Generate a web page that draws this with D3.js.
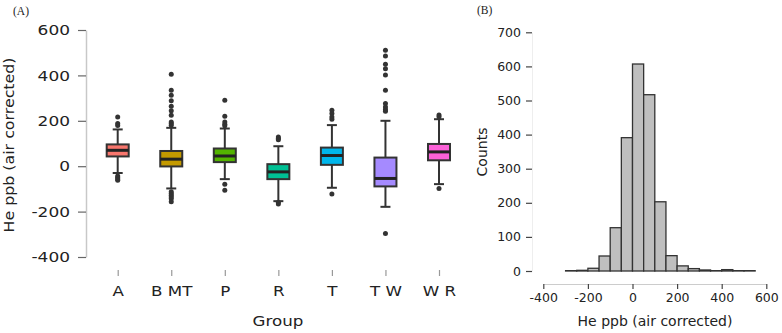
<!DOCTYPE html>
<html>
<head>
<meta charset="utf-8">
<script src="https://cdn.jsdelivr.net/npm/d3@7"></script>
<style>
    body { margin: 0; padding: 0; background: white; }
    text { fill: #222; }
</style>
</head>
<body>
<div id="main"></div>
<script>
// panel A: boxplot summaries
const groups = ['A', 'B MT', 'P', 'R', 'T', 'T W', 'W R'];
const groupColors = ['#f8766d', '#c49a00', '#53b400', '#00c094', '#00b6eb', '#a58aff', '#fb61d7'];
const q1 = [43, -1, 18, -57, 6, -89, 26];
const medians = [70, 31, 45, -25, 47, -54, 63];
const q3 = [96, 67, 78, 9, 82, 38, 98];
const whiskerLow = [-30, -98, -57, -154, -95, -179, -79];
const whiskerHigh = [162, 169, 166, 88, 181, 200, 207];
const outliers = [
    [217, 188, 179, -43, -50, -56, -62],
    [405, 335, 313, 288, 264, 244, 225, 195, 188, 180, -113, -120, -128, -136, -143, -157],
    [291, 220, 195, 185, 178, -79, -106],
    [129, 122, 116, -159, -167],
    [247, 232, 217, 207, -122],
    [511, 485, 449, 429, 402, 335, 276, 261, 250, 242, -297],
    [226, 218, -98]
];
const boxTicks = [-400, -200, 0, 200, 400, 600];

// panel B: histogram, bins of 50
const binLow = [-300, -250, -200, -150, -100, -50, 0, 50, 100, 150, 200, 250, 300, 350, 400, 450, 500];
const counts = [1, 2, 8, 44, 127, 391, 607, 517, 203, 45, 15, 7, 3, 1, 4, 1, 1];
const BINWIDTH = 50;
const histXTicks = [-400, -200, 0, 200, 400, 600];
const histYTicks = [0, 100, 200, 300, 400, 500, 600, 700];

const WIDTH = 782;
const HEIGHT = 333;
const SANS = "'DejaVu Sans', sans-serif";
const SERIF = "'Liberation Serif', 'DejaVu Serif', serif";

const svg = d3.select('#main').append('svg')
    .attr('width', WIDTH)
    .attr('height', HEIGHT)
    .attr('style', 'display: block');

// widen glyphs a bit, the reference font is broader than DejaVu
const stretch = (sel, k) => sel
    .attr('textLength', function () { return this.getComputedTextLength() * k; })
    .attr('lengthAdjust', 'spacingAndGlyphs');
const plain = (d) => String(d);

// ---------- panel A ----------
const scaleX = d3.scalePoint().domain(groups).range([117.7, 439]);
const scaleY = d3.scaleLinear().domain([-400, 600]).range([257, 30]);
const BOXW = 22;
const CAPW = 10;

const axisYA = svg.append('g')
    .attr('transform', 'translate(86, 0)')
    .call(d3.axisLeft(scaleY).tickValues(boxTicks).tickFormat(plain).tickSize(8).tickSizeOuter(0).tickPadding(8));
axisYA.select('.domain').attr('stroke', '#c8c8c8').attr('stroke-width', 1.5);
axisYA.selectAll('.tick line').attr('stroke', '#666').attr('stroke-width', 1.2);
axisYA.selectAll('.tick text').style('font-family', SANS).attr('font-size', 14.5).call(stretch, 1.17);

const axisXA = svg.append('g')
    .attr('transform', 'translate(0, 270)')
    .call(d3.axisBottom(scaleX).tickSize(6).tickSizeOuter(0).tickPadding(10));
axisXA.select('.domain').remove();
axisXA.selectAll('.tick line').attr('stroke', '#999').attr('stroke-width', 1.2);
axisXA.selectAll('.tick text').style('font-family', SANS).attr('font-size', 14.5).call(stretch, 1.15);

const boxes = svg.append('g').selectAll('g').data(groups).enter().append('g')
    .attr('transform', (d) => `translate(${scaleX(d)}, 0)`);
boxes.append('line')
    .attr('y1', (d, i) => scaleY(whiskerHigh[i]))
    .attr('y2', (d, i) => scaleY(whiskerLow[i]))
    .attr('stroke', '#333').attr('stroke-width', 2);
boxes.append('line')
    .attr('x1', -CAPW / 2).attr('x2', CAPW / 2)
    .attr('y1', (d, i) => scaleY(whiskerHigh[i])).attr('y2', (d, i) => scaleY(whiskerHigh[i]))
    .attr('stroke', '#333').attr('stroke-width', 2);
boxes.append('line')
    .attr('x1', -CAPW / 2).attr('x2', CAPW / 2)
    .attr('y1', (d, i) => scaleY(whiskerLow[i])).attr('y2', (d, i) => scaleY(whiskerLow[i]))
    .attr('stroke', '#333').attr('stroke-width', 2);
boxes.append('rect')
    .attr('x', -BOXW / 2)
    .attr('width', BOXW)
    .attr('y', (d, i) => scaleY(q3[i]))
    .attr('height', (d, i) => scaleY(q1[i]) - scaleY(q3[i]))
    .attr('fill', (d, i) => groupColors[i])
    .attr('stroke', '#333').attr('stroke-width', 2);
boxes.append('line')
    .attr('x1', -BOXW / 2).attr('x2', BOXW / 2)
    .attr('y1', (d, i) => scaleY(medians[i])).attr('y2', (d, i) => scaleY(medians[i]))
    .attr('stroke', '#222').attr('stroke-width', 3);
boxes.each(function (d, i) {
    d3.select(this).selectAll('circle').data(outliers[i]).enter().append('circle')
        .attr('cx', 0)
        .attr('cy', (v) => scaleY(v))
        .attr('r', 2.5)
        .attr('fill', '#333');
});

svg.append('text')
    .attr('x', 278).attr('y', 326)
    .attr('text-anchor', 'middle')
    .style('font-family', SANS)
    .attr('font-size', 14.5)
    .text('Group')
    .call(stretch, 1.15);
svg.append('text')
    .attr('transform', 'translate(14, 145) rotate(-90)')
    .attr('text-anchor', 'middle')
    .style('font-family', SANS)
    .attr('font-size', 13.5)
    .attr('textLength', 175)
    .attr('lengthAdjust', 'spacingAndGlyphs')
    .text('He ppb (air corrected)');
svg.append('text')
    .attr('x', 13).attr('y', 15)
    .style('font-family', SERIF)
    .attr('font-size', 11.5)
    .text('(A)');

// ---------- panel B ----------
const histX = d3.scaleLinear().domain([-400, 600]).range([543.3, 766.3]);
const histY = d3.scaleLinear().domain([0, 700]).range([271, 32.3]);

const axisYB = svg.append('g')
    .attr('transform', 'translate(532, 0)')
    .call(d3.axisLeft(histY).tickValues(histYTicks).tickFormat(plain).tickSize(6).tickSizeOuter(0).tickPadding(5));
axisYB.select('.domain').attr('stroke', '#eee');
axisYB.selectAll('.tick line').attr('stroke', '#444').attr('stroke-width', 1.2);
axisYB.selectAll('.tick text').style('font-family', SANS).attr('font-size', 12.5);

const axisXB = svg.append('g')
    .attr('transform', 'translate(0, 284)')
    .call(d3.axisBottom(histX).tickValues(histXTicks).tickFormat(plain).tickSize(5).tickSizeOuter(0).tickPadding(4));
axisXB.select('.domain').attr('stroke', '#ccc');
axisXB.selectAll('.tick line').attr('stroke', '#444').attr('stroke-width', 1.2);
axisXB.selectAll('.tick text').style('font-family', SANS).attr('font-size', 12.5);

svg.append('g').selectAll('rect').data(binLow).enter().append('rect')
    .attr('x', (d) => histX(d))
    .attr('width', (d) => histX(d + BINWIDTH) - histX(d))
    .attr('y', (d, i) => histY(counts[i]))
    .attr('height', (d, i) => histY(0) - histY(counts[i]))
    .attr('fill', '#bfbfbf')
    .attr('stroke', '#333')
    .attr('stroke-width', 1.3);

svg.append('text')
    .attr('x', 655).attr('y', 326)
    .attr('text-anchor', 'middle')
    .style('font-family', SANS)
    .attr('font-size', 14)
    .text('He ppb (air corrected)');
svg.append('text')
    .attr('transform', 'translate(487, 152) rotate(-90)')
    .attr('text-anchor', 'middle')
    .style('font-family', SANS)
    .attr('font-size', 14)
    .text('Counts');
svg.append('text')
    .attr('x', 477).attr('y', 14)
    .style('font-family', SERIF)
    .attr('font-size', 11.5)
    .text('(B)');
</script>
</body>
</html>
